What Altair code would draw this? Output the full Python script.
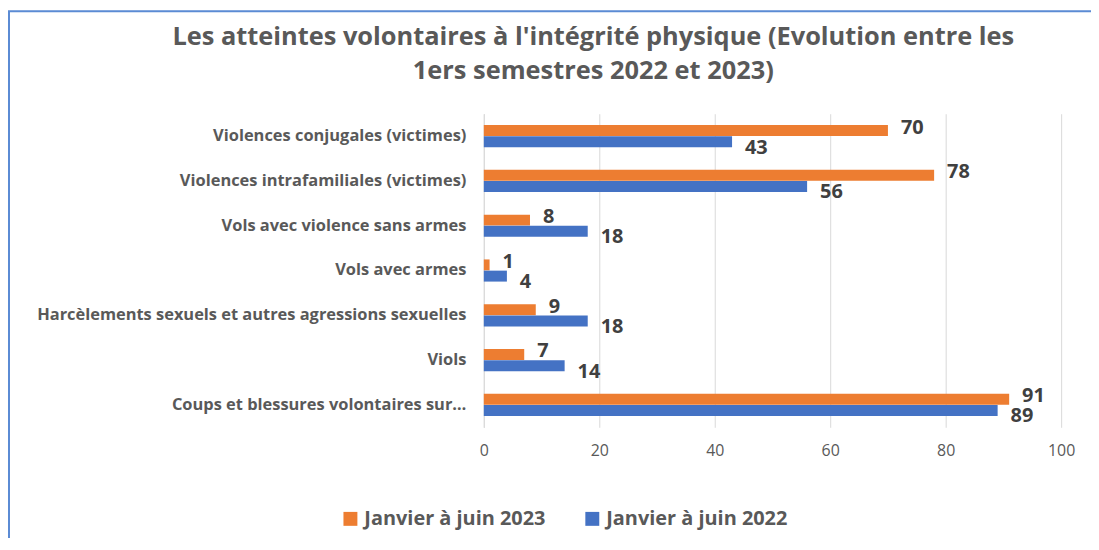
import altair as alt
import pandas as pd

categories = [
    "Violences conjugales (victimes)",
    "Violences intrafamiliales (victimes)",
    "Vols avec violence sans armes",
    "Vols avec armes",
    "Harcèlements sexuels et autres agressions sexuelles",
    "Viols",
    "Coups et blessures volontaires sur…",
]
series_names = ["Janvier à juin 2023", "Janvier à juin 2022"]
values_2023 = [70, 78, 8, 1, 9, 7, 91]
values_2022 = [43, 56, 18, 4, 18, 14, 89]
x_ticks = [0, 20, 40, 60, 80, 100]
colors = ["#ED7D31", "#4472C4"]

rows = []
for c, v in zip(categories, values_2023):
    rows.append({"cat": c, "series": series_names[0], "value": v})
for c, v in zip(categories, values_2022):
    rows.append({"cat": c, "series": series_names[1], "value": v})
df = pd.DataFrame(rows)

FONT = "Open Sans"

y_enc = alt.Y("cat:N", sort=categories,
              scale=alt.Scale(paddingInner=0.5, paddingOuter=0.25),
              axis=alt.Axis(title=None, labelFont=FONT, labelFontSize=16.5,
                            labelFontWeight="bold", labelColor="#595959",
                            labelPadding=18, ticks=False, domainColor="#D9D9D9",
                            domainWidth=1, labelLimit=470))
x_enc = alt.X("value:Q", scale=alt.Scale(domain=[0, 100], nice=False),
              axis=alt.Axis(title=None, values=x_ticks, labelFont=FONT,
                            labelFontSize=16, labelColor="#595959",
                            labelPadding=15, ticks=False, domain=False,
                            labelFlush=False,
                            grid=True, gridColor="#D9D9D9", gridWidth=1))
yoff = alt.YOffset("series:N", sort=series_names, scale=alt.Scale(paddingInner=0))

bars = alt.Chart(df).mark_bar(size=11).encode(
    y=y_enc, x=x_enc, yOffset=yoff,
    color=alt.Color("series:N", sort=series_names,
                    scale=alt.Scale(domain=series_names, range=colors),
                    legend=alt.Legend(title=None, orient="none", direction="horizontal",
                                      legendX=-144, legendY=397,
                                      symbolType="square", symbolSize=196,
                                      symbolStrokeWidth=0,
                                      labelFont=FONT, labelFontSize=20,
                                      labelFontWeight="bold", labelColor="#595959",
                                      columnPadding=36, labelLimit=300)),
)

text_2023 = alt.Chart(df).transform_filter(
    alt.datum.series == series_names[0]
).mark_text(align="left", baseline="middle", dx=13, dy=-3, font=FONT,
            fontSize=20, fontWeight="bold", color="#404040").encode(
    y=alt.Y("cat:N", sort=categories), x="value:Q", yOffset=yoff,
    text="value:Q")

text_2022 = alt.Chart(df).transform_filter(
    alt.datum.series == series_names[1]
).mark_text(align="left", baseline="middle", dx=13, dy=6, font=FONT,
            fontSize=20, fontWeight="bold", color="#404040").encode(
    y=alt.Y("cat:N", sort=categories), x="value:Q", yOffset=yoff,
    text="value:Q")

frame = alt.Chart(alt.Data(values=[{"a": 1}])).mark_rect(
    filled=False, stroke="#5B8BD4", strokeWidth=2
).encode(x=alt.value(-477), x2=alt.value(700), y=alt.value(-103), y2=alt.value(600))

chart = alt.layer(frame, bars, text_2023, text_2022).properties(
    width=580, height=315,
    padding={"left": 478, "top": 105, "right": 30, "bottom": 110},
    autosize=alt.AutoSizeParams(type="none"),
    title=alt.TitleParams(
        text=["Les atteintes volontaires à l'intégrité physique (Evolution entre les",
              "1ers semestres 2022 et 2023)"],
        font=FONT, fontSize=25.5, fontWeight="bold", color="#595959",
        anchor="middle", dx=-180, dy=103, offset=28, lineHeight=35),
).configure(background="white").configure_view(strokeWidth=0)

chart.save("out.html", embed_options={"renderer": "svg", "actions": False})
